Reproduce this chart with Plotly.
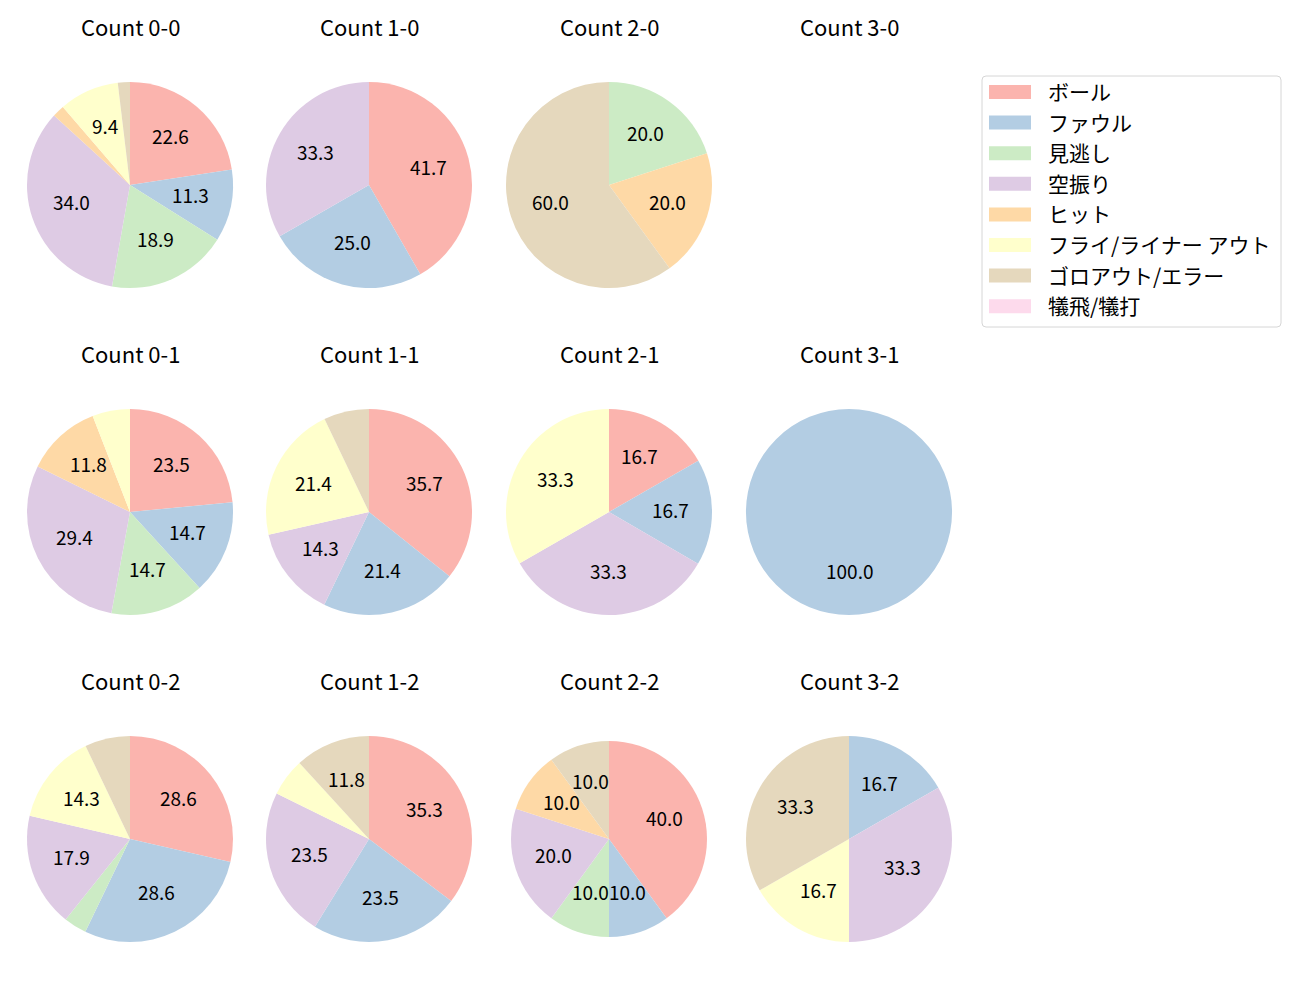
import math
import plotly.graph_objects as go

# ---- data ----
categories = ["ボール", "ファウル", "見逃し", "空振り", "ヒット",
              "フライ/ライナー アウト", "ゴロアウト/エラー", "犠飛/犠打"]
colors = ["#fbb4ae", "#b3cde3", "#ccebc5", "#decbe4", "#fed9a6",
          "#ffffcc", "#e5d8bd", "#fddaec"]

count_0_0 = [22.6, 11.3, 18.9, 34.0, 1.9, 9.4, 1.9, 0]
count_1_0 = [41.7, 25.0, 0, 33.3, 0, 0, 0, 0]
count_2_0 = [0, 0, 20.0, 0, 20.0, 0, 60.0, 0]
count_3_0 = [0, 0, 0, 0, 0, 0, 0, 0]
count_0_1 = [23.5, 14.7, 14.7, 29.4, 11.8, 5.9, 0, 0]
count_1_1 = [35.7, 21.4, 0, 14.3, 0, 21.4, 7.1, 0]
count_2_1 = [16.7, 16.7, 0, 33.3, 0, 33.3, 0, 0]
count_3_1 = [0, 100.0, 0, 0, 0, 0, 0, 0]
count_0_2 = [28.6, 28.6, 3.6, 17.9, 0, 14.3, 7.1, 0]
count_1_2 = [35.3, 23.5, 0, 23.5, 0, 5.9, 11.8, 0]
count_2_2 = [40.0, 10.0, 10.0, 20.0, 10.0, 0, 10.0, 0]
count_3_2 = [0, 16.7, 0, 33.3, 0, 16.7, 33.3, 0]

titles = ["Count 0-0", "Count 1-0", "Count 2-0", "Count 3-0",
          "Count 0-1", "Count 1-1", "Count 2-1", "Count 3-1",
          "Count 0-2", "Count 1-2", "Count 2-2", "Count 3-2"]
series = [count_0_0, count_1_0, count_2_0, count_3_0,
          count_0_1, count_1_1, count_2_1, count_3_1,
          count_0_2, count_1_2, count_2_2, count_3_2]

# ---- layout (pixels, as seen in the window) ----
W, H = 1300, 1000
OFF = 8  # page body margin
col_cx = [130, 369, 609, 849]
row_cy = [185, 512, 839]
radii = [103] * 12
radii[10] = 98
title_offset = 159
label_dy = -3
label_threshold = 8.0
FONT = "Noto Sans CJK JP"


def px(x):
    return (x - OFF) / W


def py(y):
    return 1 - (y - OFF) / H


fig = go.Figure()
annotations = []

for i, (title, vals) in enumerate(zip(titles, series)):
    r, c = divmod(i, 4)
    cx, cy, R = col_cx[c], row_cy[r], radii[i]
    annotations.append(dict(text=title, x=px(cx), y=py(cy - title_offset),
                            xref="paper", yref="paper", showarrow=False,
                            xanchor="center", yanchor="middle",
                            font=dict(size=22, color="#000000", family=FONT)))
    total = sum(vals)
    if total <= 0:
        continue
    fig.add_trace(go.Pie(
        values=vals, labels=categories, sort=False, direction="clockwise",
        rotation=0, marker=dict(colors=colors, line=dict(width=0)),
        textinfo="none", hoverinfo="label+percent", showlegend=False,
        domain=dict(x=[px(cx - R), px(cx + R)], y=[py(cy + R), py(cy - R)]),
    ))
    cum = 0.0
    for v in vals:
        if v > 0 and v >= label_threshold:
            f = (cum + v / 2) / total
            th = 2 * math.pi * f
            lx = cx + 0.6 * R * math.sin(th)
            ly = cy - 0.6 * R * math.cos(th) + label_dy
            annotations.append(dict(text=f"{v:.1f}", x=px(lx), y=py(ly),
                                    xref="paper", yref="paper", showarrow=False,
                                    xanchor="center", yanchor="middle",
                                    font=dict(size=19, color="#000000", family=FONT)))
        cum += v

# ---- custom legend ----
shapes = []
lx0, lx1, ly0, ly1, rad = 982, 1281, 76, 327, 4
path = (f"M {px(lx0+rad)},{py(ly0)} L {px(lx1-rad)},{py(ly0)} "
        f"Q {px(lx1)},{py(ly0)} {px(lx1)},{py(ly0+rad)} "
        f"L {px(lx1)},{py(ly1-rad)} Q {px(lx1)},{py(ly1)} {px(lx1-rad)},{py(ly1)} "
        f"L {px(lx0+rad)},{py(ly1)} Q {px(lx0)},{py(ly1)} {px(lx0)},{py(ly1-rad)} "
        f"L {px(lx0)},{py(ly0+rad)} Q {px(lx0)},{py(ly0)} {px(lx0+rad)},{py(ly0)} Z")
shapes.append(dict(type="path", path=path, xref="paper", yref="paper",
                   line=dict(color="#d6d6d6", width=1), fillcolor="rgba(255,255,255,0.8)"))
row0, step = 92, 30.6
for k, (cat, col) in enumerate(zip(categories, colors)):
    yc = row0 + k * step
    shapes.append(dict(type="rect", xref="paper", yref="paper",
                       x0=px(989), x1=px(1031), y0=py(yc + 7), y1=py(yc - 7),
                       line=dict(width=0), fillcolor=col))
    annotations.append(dict(text=cat, x=px(1046), y=py(yc - 1), xref="paper", yref="paper",
                            showarrow=False, xanchor="left", yanchor="middle",
                            font=dict(size=21, color="#000000", family=FONT)))

fig.update_layout(
    width=W, height=H, margin=dict(l=0, r=0, t=0, b=0),
    paper_bgcolor="white", plot_bgcolor="white",
    annotations=annotations, shapes=shapes, showlegend=False,
    font=dict(family=FONT),
)
fig.write_html("out.html")
